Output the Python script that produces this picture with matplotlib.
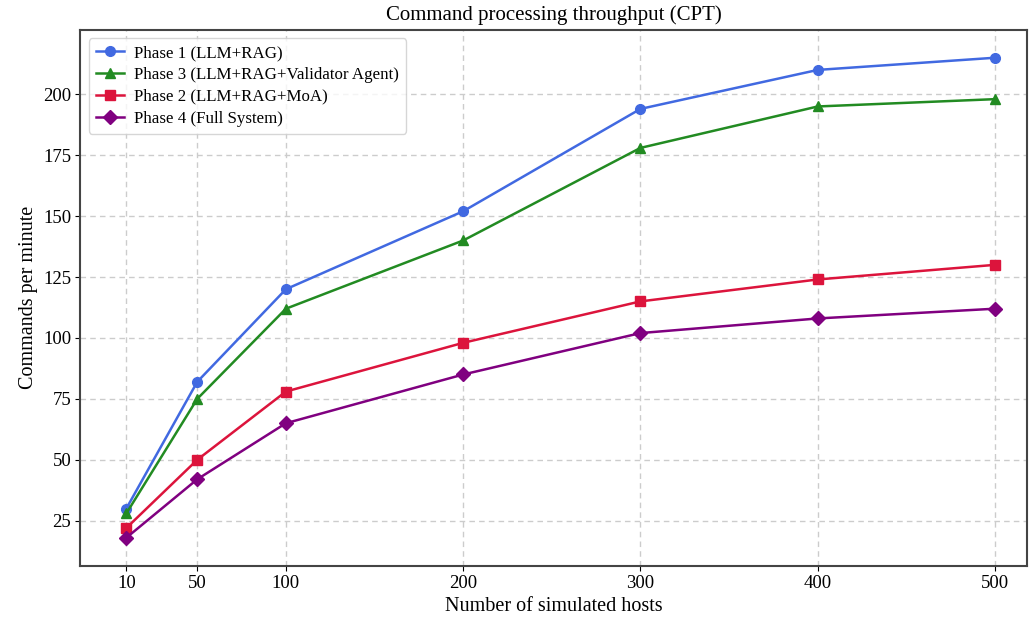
import numpy as np
import matplotlib
matplotlib.use('Agg')
import matplotlib.pyplot as plt

plt.rcParams['font.family'] = ['Liberation Serif', 'DejaVu Serif']

# data
hosts = [10, 50, 100, 200, 300, 400, 500]
phase1 = [30, 82, 120, 152, 194, 210, 215]
phase3 = [28, 75, 112, 140, 178, 195, 198]
phase2 = [22, 50, 78, 98, 115, 124, 130]
phase4 = [18, 42, 65, 85, 102, 108, 112]

fig, ax = plt.subplots(figsize=(10.29, 6.19), dpi=100)

ax.plot(hosts, phase1, marker='o', color='royalblue', lw=1.8, ms=7, label='Phase 1 (LLM+RAG)')
ax.plot(hosts, phase3, marker='^', color='forestgreen', lw=1.8, ms=7, label='Phase 3 (LLM+RAG+Validator Agent)')
ax.plot(hosts, phase2, marker='s', color='crimson', lw=1.8, ms=7, label='Phase 2 (LLM+RAG+MoA)')
ax.plot(hosts, phase4, marker='D', color='purple', lw=1.8, ms=7, label='Phase 4 (Full System)')

ax.set_xticks(hosts)
ax.set_yticks([25, 50, 75, 100, 125, 150, 175, 200])
ax.set_xlim(-16, 518)
ax.set_ylim(6.5, 226.5)
ax.tick_params(labelsize=13.5, pad=3)

ax.set_title('Command processing throughput (CPT)', fontsize=15, pad=7)
ax.set_xlabel('Number of simulated hosts', fontsize=14.5)
ax.set_ylabel('Commands per minute', fontsize=14.5)
ax.grid(True, linestyle=(0, (4, 3)), color='#cccccc', lw=1)
for s in ax.spines.values():
    s.set_color('#444444')
    s.set_linewidth(1.5)

ax.legend(loc='upper left', fontsize=12.2, handlelength=1.7, borderpad=0.4,
          labelspacing=0.35, handletextpad=0.6)

plt.subplots_adjust(left=0.078, right=0.998, top=0.952, bottom=0.086)
plt.savefig('out.png')
